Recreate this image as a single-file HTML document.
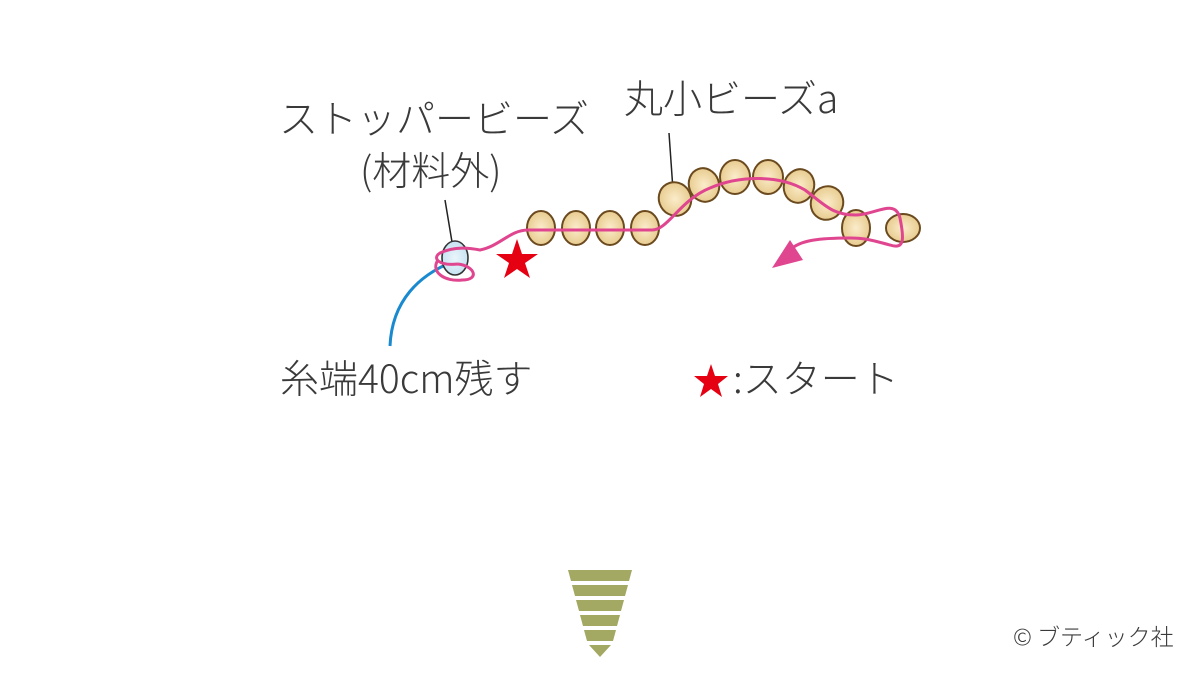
<!DOCTYPE html>
<html><head><meta charset="utf-8"><style>
body{margin:0;background:#fff;}
#c{position:relative;width:1200px;height:675px;overflow:hidden;font-family:"Noto Sans CJK JP","Liberation Sans",sans-serif;color:#3a3a3a;}
.t{position:absolute;font-size:39px;line-height:1;white-space:nowrap;font-weight:300;}
</style></head><body><div id="c">
<svg width="1200" height="675" style="position:absolute;left:0;top:0">
<defs><radialGradient id="g" cx="50%" cy="50%" r="55%"><stop offset="0" stop-color="#fbeccb"/><stop offset="1" stop-color="#e6c98a"/></radialGradient>
<radialGradient id="b" cx="50%" cy="50%" r="55%"><stop offset="0" stop-color="#eaf5fb"/><stop offset="1" stop-color="#c4e2f2"/></radialGradient></defs>
<line x1="445" y1="200" x2="452" y2="242" stroke="#222" stroke-width="1.5"/>
<line x1="669" y1="133" x2="673" y2="190" stroke="#222" stroke-width="1.5"/>
<path d="M452 262 C420 275 392 300 390 346" fill="none" stroke="#1a8ad0" stroke-width="3"/>
<ellipse cx="455" cy="258" rx="13" ry="17" fill="url(#b)" stroke="#333" stroke-width="1.6"/>
<g fill="url(#g)" stroke="#6b4a1f" stroke-width="2">
<ellipse cx="541" cy="228" rx="14" ry="17"/><ellipse cx="576" cy="228" rx="14" ry="17"/>
<ellipse cx="610" cy="228" rx="14" ry="17"/><ellipse cx="645" cy="228" rx="14" ry="17"/>
<ellipse cx="675" cy="199" rx="16" ry="17" transform="rotate(-30 675 199)"/>
<ellipse cx="704" cy="185" rx="15" ry="17" transform="rotate(-20 704 185)"/>
<ellipse cx="735" cy="177" rx="15" ry="17"/><ellipse cx="768" cy="177" rx="15" ry="17"/>
<ellipse cx="799" cy="186" rx="15" ry="17" transform="rotate(20 799 186)"/>
<ellipse cx="827" cy="203" rx="16" ry="17" transform="rotate(30 827 203)"/>
<ellipse cx="856" cy="228" rx="14" ry="18"/><ellipse cx="903" cy="228" rx="17" ry="14"/>
</g>
<path d="M458 264 C438 266 432 258 440 253 C455 246 470 248 480 250 C500 246 510 230 528 230 L652 230 C668 230 680 200 710 188 C740 175 780 175 805 190 C825 205 832 215 856 215 C875 215 895 198 900 218 C904 238 905 250 890 245 C878 242 868 238 850 238 C820 238 800 240 790 250 M458 264 C475 266 480 280 462 280 C445 282 430 272 438 260" fill="none" stroke="#e0468f" stroke-width="3"/>
<polygon points="772,268 790,240 803,260" fill="#e0468f"/>
<polygon points="517,239 522,254 538,254 525,263 530,278 517,269 504,278 509,263 496,254 512,254" fill="#e50012"/>
<polygon points="711,364 715,376 728,376 718,384 722,397 711,389 700,397 704,384 694,376 707,376" fill="#e50012"/>
<g fill="#a3a862">
<polygon points="568,570 632,570 629,581 571,581"/>
<polygon points="572,585 628,585 625,596 575,596"/>
<polygon points="576,600 624,600 621,611 579,611"/>
<polygon points="580,615 620,615 617,626 583,626"/>
<polygon points="584,630 616,630 613,641 587,641"/>
<polygon points="589,645 611,645 600,657"/>
</g>
</svg>
<div class="t" style="left:279px;top:98px">ストッパービーズ</div>
<div class="t" style="left:360px;top:150px">(材料外)</div>
<div class="t" style="left:624px;top:78px">丸小ビーズa</div>
<div class="t" style="left:280px;top:358px">糸端40cm残す</div>
<div class="t" style="left:733px;top:358px">:スタート</div>
<div class="t" style="left:1013px;top:624px;font-size:23px">© ブティック社</div>
</div></body></html>
